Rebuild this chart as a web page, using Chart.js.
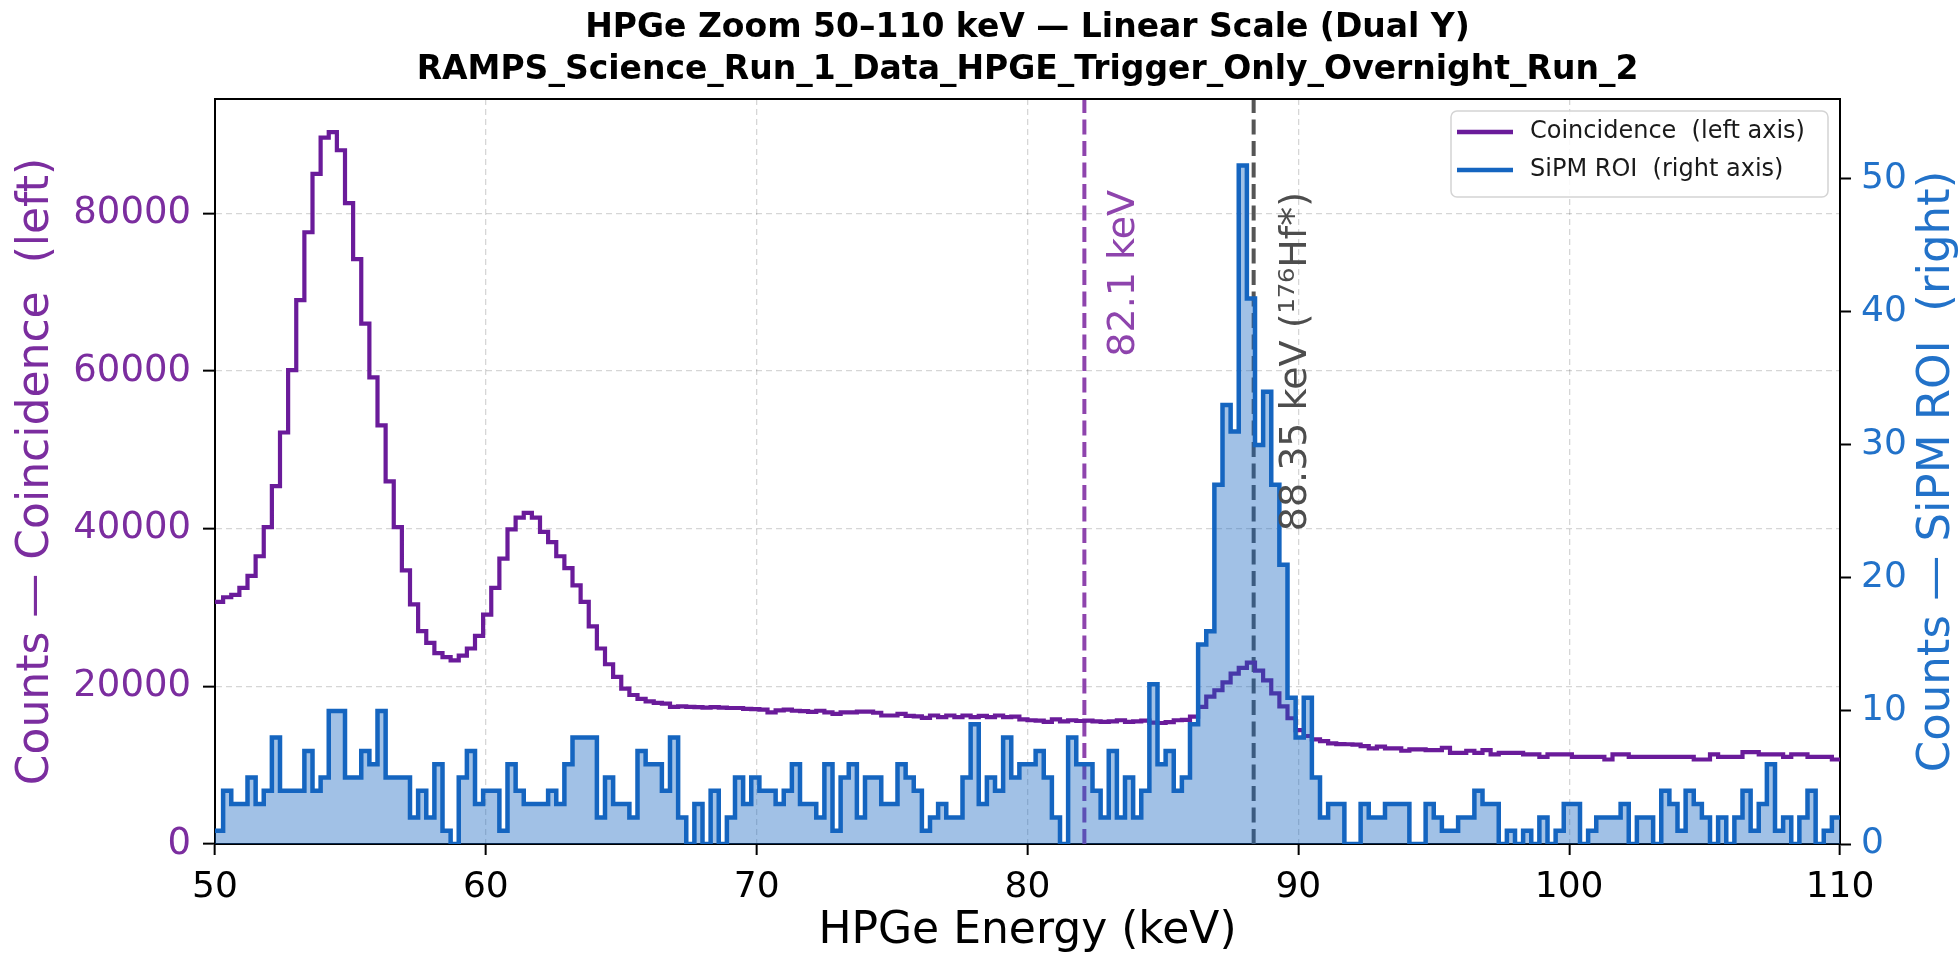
<!DOCTYPE html>
<html>
<head>
<meta charset="utf-8">
<title>HPGe Zoom 50–110 keV</title>
<script src="https://cdn.jsdelivr.net/npm/chart.js@4.4.1/dist/chart.umd.min.js"></script>
<style>
  html, body { margin: 0; padding: 0; background: #fff; }
  canvas { display: block; }
</style>
</head>
<body>
<canvas id="chart" width="1959" height="954"></canvas>
<script>
Chart.defaults.font.family = "'DejaVu Sans', sans-serif";

const PURPLE = '#6a1b9a';
const PURPLE_TEXT = '#7b2d9f';
const BLUE = '#1565c0';
const BLUE_TEXT = '#2272c9';

// histogram binning: 200 bins of 0.3 keV from 50 keV
const BIN_START = 50;
const BIN_WIDTH = 0.3;

const coincidenceCounts = [
  30700, 31300, 31600, 32500, 34000, 36500, 40200, 45400, 52200, 60100,
  69000, 77600, 85000, 89600, 90300, 88000, 81300, 74200, 66000, 59200,
  53100, 46000, 40200, 34700, 30400, 27000, 25500, 24200, 23700, 23300,
  23900, 24800, 26400, 29100, 32500, 36200, 39900, 41400, 42000, 41400,
  39600, 38300, 36500, 35000, 32800, 30700, 27600, 24800, 22800, 21200,
  19700, 18900, 18400, 18100, 17900, 17800, 17400, 17450, 17400, 17350,
  17300, 17350, 17300, 17250, 17250, 17150, 17100, 17050, 16700, 16950,
  17050, 16900, 16850, 16750, 16900, 16700, 16500, 16700, 16700, 16800,
  16800, 16650, 16300, 16300, 16500, 16250, 16200, 16000, 16300, 16100,
  16300, 16100, 16300, 16100, 16250, 16100, 16300, 16100, 16150, 15800,
  15700, 15650, 15500, 15800, 15550, 15700, 15600, 15650, 15550, 15500,
  15550, 15700, 15500, 15550, 15650, 15400, 15350, 15450, 15700, 15750,
  16150, 17400, 18700, 19500, 20500, 21600, 22350, 23000, 22000, 20750,
  19100, 17450, 15950, 14450, 13700, 13280, 13060, 12770, 12680, 12650,
  12600, 12420, 12130, 12340, 12130, 12130, 11830, 12000, 12000, 11910,
  11910, 12210, 11570, 11570, 11830, 11570, 11910, 11360, 11570, 11570,
  11570, 11360, 11360, 11060, 11360, 11360, 11360, 11060, 11060, 11060,
  11060, 10720, 11360, 11360, 11060, 11060, 11060, 11060, 11060, 11060,
  11060, 11060, 10720, 10720, 11360, 11060, 11060, 11060, 11660, 11660,
  11360, 11360, 11360, 11060, 11360, 11360, 11060, 11060, 11060, 10720
];

const sipmCounts = [
  1, 4, 3, 3, 5, 3, 4, 8, 4, 4,
  4, 7, 4, 5, 10, 10, 5, 5, 7, 6,
  10, 5, 5, 5, 2, 4, 2, 6, 1, 0,
  5, 7, 3, 4, 4, 1, 6, 4, 3, 3,
  3, 4, 3, 6, 8, 8, 8, 2, 5, 3,
  3, 2, 7, 6, 6, 4, 8, 2, 0, 3,
  0, 4, 0, 2, 5, 3, 5, 4, 4, 3,
  4, 6, 3, 3, 2, 6, 1, 5, 6, 2,
  5, 5, 3, 3, 6, 5, 4, 1, 2, 3,
  2, 2, 5, 9, 3, 5, 4, 8, 5, 6,
  6, 7, 5, 2, 0, 8, 6, 6, 4, 2,
  7, 2, 5, 2, 4, 12, 6, 7, 4, 5,
  9, 15, 16, 27, 33, 31, 51, 41, 30, 34,
  27, 21, 11, 8, 11, 5, 2, 3, 3, 0,
  0, 3, 2, 2, 3, 3, 3, 0, 0, 3,
  2, 1, 1, 2, 2, 4, 3, 3, 0, 1,
  0, 1, 0, 2, 0, 1, 3, 3, 0, 1,
  2, 2, 2, 3, 0, 2, 2, 0, 4, 3,
  1, 4, 3, 2, 0, 2, 0, 2, 4, 1,
  3, 6, 1, 2, 0, 2, 4, 0, 1, 2
];

const leftTicks = [0, 20000, 40000, 60000, 80000];
const rightTicks = [0, 10, 20, 30, 40, 50];
const markerEnergies = [82.1, 88.35];
const markerLabels = ['82.1 keV', '88.35 keV (¹⁷⁶Hf*)'];
const legendLabels = ['Coincidence  (left axis)', 'SiPM ROI  (right axis)'];

// left edge of every bin, plus a closing point at the last edge
const toSteps = (counts) => {
  const pts = counts.map((c, i) => ({ x: BIN_START + i * BIN_WIDTH, y: c }));
  pts.push({ x: BIN_START + counts.length * BIN_WIDTH, y: counts[counts.length - 1] });
  return pts;
};

const markerStyles = [
  { line: '#8e44ad', text: '#8e44ad', dx: 40, dy: 91 },
  { line: '#555555', text: '#4d4d4d', dx: 42, dy: 93 },
];

const overlay = {
  id: 'overlay',
  beforeDatasetsDraw(chart) {
    const { ctx, chartArea: a, scales: { x } } = chart;
    markerEnergies.forEach((e, i) => {
      const px = x.getPixelForValue(e);
      ctx.save();
      ctx.strokeStyle = markerStyles[i].line;
      ctx.lineWidth = 4;
      ctx.setLineDash([15, 6.5]);
      ctx.beginPath();
      ctx.moveTo(px, a.bottom);
      ctx.lineTo(px, a.top);
      ctx.stroke();
      ctx.restore();
    });
  },
  afterDatasetsDraw(chart) {
    const { ctx, chartArea: a, scales: { x } } = chart;
    markerEnergies.forEach((e, i) => {
      const px = x.getPixelForValue(e);
      ctx.save();
      ctx.translate(px + markerStyles[i].dx, a.top + markerStyles[i].dy);
      ctx.rotate(-Math.PI / 2);
      ctx.font = "38px 'DejaVu Sans'";
      ctx.fillStyle = markerStyles[i].text;
      ctx.textAlign = 'right';
      ctx.textBaseline = 'middle';
      ctx.fillText(markerLabels[i], 0, 0);
      ctx.restore();
    });
  },
  afterDraw(chart) {
    const { ctx, chartArea: a } = chart;
    // top spine
    ctx.save();
    ctx.strokeStyle = '#000';
    ctx.lineWidth = 2;
    ctx.beginPath();
    ctx.moveTo(a.left - 1, a.top);
    ctx.lineTo(a.right + 1, a.top);
    ctx.stroke();
    ctx.restore();

    // right axis title, reading upward
    ctx.save();
    ctx.translate(1937, (a.top + a.bottom) / 2);
    ctx.rotate(-Math.PI / 2);
    ctx.font = "45px 'DejaVu Sans'";
    ctx.fillStyle = BLUE_TEXT;
    ctx.textAlign = 'center';
    ctx.textBaseline = 'middle';
    ctx.fillText('Counts — SiPM ROI  (right)', 0, 0);
    ctx.restore();

    // legend box
    const bx = a.right - 389, by = a.top + 12, bw = 377, bh = 86;
    ctx.save();
    ctx.beginPath();
    ctx.roundRect(bx, by, bw, bh, 6);
    ctx.fillStyle = 'rgba(255,255,255,0.85)';
    ctx.fill();
    ctx.strokeStyle = '#d4d4d4';
    ctx.lineWidth = 1.5;
    ctx.stroke();
    const colors = [PURPLE, BLUE];
    legendLabels.forEach((t, i) => {
      const ly = by + 21 + i * 38;
      ctx.strokeStyle = colors[i];
      ctx.lineWidth = 4.5;
      ctx.beginPath();
      ctx.moveTo(bx + 6, ly);
      ctx.lineTo(bx + 62, ly);
      ctx.stroke();
      ctx.font = "24px 'DejaVu Sans'";
      ctx.fillStyle = '#1a1a1a';
      ctx.textBaseline = 'middle';
      ctx.fillText(t, bx + 79, ly);
    });
    ctx.restore();
  }
};

new Chart(document.getElementById('chart'), {
  type: 'line',
  plugins: [overlay],
  data: {
    datasets: [
      {
        label: legendLabels[1],
        data: toSteps(sipmCounts),
        yAxisID: 'y1',
        stepped: 'before',
        borderColor: BLUE,
        borderWidth: 4.5,
        backgroundColor: 'rgba(21,101,192,0.4)',
        fill: 'origin',
        pointRadius: 0,
        order: 0,
      },
      {
        label: legendLabels[0],
        data: toSteps(coincidenceCounts),
        yAxisID: 'y',
        stepped: 'before',
        borderColor: PURPLE,
        borderWidth: 4.2,
        fill: false,
        pointRadius: 0,
        order: 1,
      },
    ],
  },
  options: {
    responsive: false,
    animation: false,
    devicePixelRatio: 1,
    layout: { padding: 0 },
    plugins: {
      legend: { display: false },
      tooltip: { enabled: false },
      title: {
        display: true,
        fullSize: false,
        text: [
          'HPGe Zoom 50–110 keV — Linear Scale (Dual Y)',
          'RAMPS_Science_Run_1_Data_HPGE_Trigger_Only_Overnight_Run_2',
        ],
        color: '#000',
        font: { size: 33, weight: 'bold', lineHeight: 1.3 },
        padding: { top: 6.5, bottom: 6.7 },
      },
    },
    scales: {
      x: {
        type: 'linear',
        min: 50,
        max: 110,
        ticks: { stepSize: 10, color: '#000', font: { size: 36, lineHeight: 1.0 }, padding: 15 },
        grid: { color: 'rgba(0,0,0,0.16)', lineWidth: 1.3, tickColor: '#000', tickWidth: 2, tickLength: 11 },
        border: { display: true, color: '#000', width: 2, dash: [6, 4] },
        title: {
          display: true,
          text: 'HPGe Energy (keV)',
          color: '#000',
          font: { size: 44, lineHeight: 1.0 },
          padding: { top: 0, bottom: 0 },
        },
        afterFit: (s) => { s.height = 110; },
      },
      y: {
        type: 'linear',
        position: 'left',
        min: 0,
        max: 94500,
        afterBuildTicks: (s) => { s.ticks = leftTicks.map((v) => ({ value: v })); },
        ticks: {
          color: PURPLE_TEXT,
          font: { size: 37 },
          padding: 12,
          callback: (v) => String(v),
        },
        grid: { color: 'rgba(0,0,0,0.16)', lineWidth: 1.3, tickColor: '#000', tickWidth: 2, tickLength: 12 },
        border: { display: true, color: '#000', width: 2, dash: [6, 4] },
        title: {
          display: true,
          text: 'Counts — Coincidence  (left)',
          color: PURPLE_TEXT,
          font: { size: 44, lineHeight: 1.2 },
          padding: { top: 10, bottom: 0 },
        },
        afterFit: (s) => { s.width = 215; },
      },
      y1: {
        type: 'linear',
        position: 'right',
        min: 0,
        max: 56,
        afterBuildTicks: (s) => { s.ticks = rightTicks.map((v) => ({ value: v })); },
        ticks: {
          color: BLUE_TEXT,
          font: { size: 36 },
          padding: 10,
        },
        grid: { drawOnChartArea: false, tickColor: '#000', tickWidth: 2, tickLength: 11 },
        border: { display: true, color: '#000', width: 2 },
        afterFit: (s) => { s.width = 119; },
      },
    },
  },
});
</script>
</body>
</html>
